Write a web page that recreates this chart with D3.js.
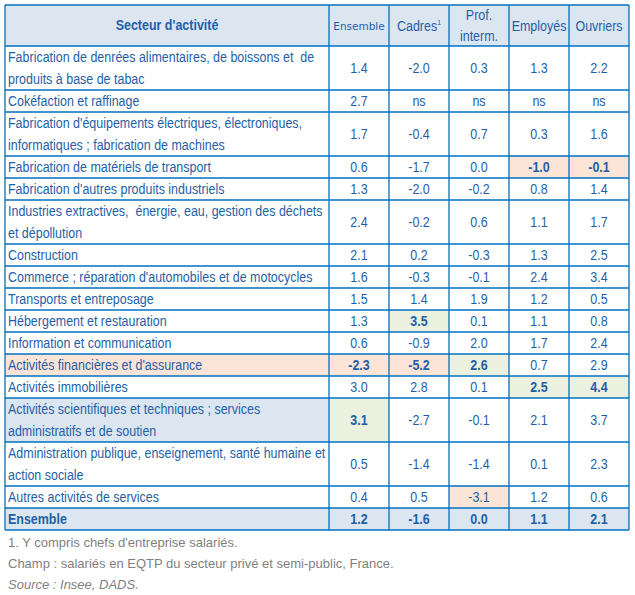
<!DOCTYPE html>
<html>
<head>
<meta charset="utf-8">
<script src="https://cdn.jsdelivr.net/npm/d3@7"></script>
<style>
  body { margin: 0; background: #fff; }
  svg text { font-family: "Liberation Sans", Arial, sans-serif; }
</style>
</head>
<body>
<div id="chart"></div>
<script>
// libellés des secteurs (une entrée par ligne de texte)
const secteurs = [
  ["Fabrication de denrées alimentaires, de boissons et  de", "produits à base de tabac"],
  ["Cokéfaction et raffinage"],
  ["Fabrication d'équipements électriques, électroniques,", "informatiques ; fabrication de machines"],
  ["Fabrication de matériels de transport"],
  ["Fabrication d'autres produits industriels"],
  ["Industries extractives,  énergie, eau, gestion des déchets", "et dépollution"],
  ["Construction"],
  ["Commerce ; réparation d'automobiles et de motocycles"],
  ["Transports et entreposage"],
  ["Hébergement et restauration"],
  ["Information et communication"],
  ["Activités financières et d'assurance"],
  ["Activités immobilières"],
  ["Activités scientifiques et techniques ; services", "administratifs et de soutien"],
  ["Administration publique, enseignement, santé humaine et", "action sociale"],
  ["Autres activités de services"],
  ["Ensemble"]
];

const colonnes = ["Ensemble", "Cadres", "Prof. interm.", "Employés", "Ouvriers"];

const ensemble  = ["1.4", "2.7", "1.7", "0.6", "1.3", "2.4", "2.1", "1.6", "1.5", "1.3", "0.6", "-2.3", "3.0", "3.1", "0.5", "0.4", "1.2"];
const cadres    = ["-2.0", "ns", "-0.4", "-1.7", "-2.0", "-0.2", "0.2", "-0.3", "1.4", "3.5", "-0.9", "-5.2", "2.8", "-2.7", "-1.4", "0.5", "-1.6"];
const profInter = ["0.3", "ns", "0.7", "0.0", "-0.2", "0.6", "-0.3", "-0.1", "1.9", "0.1", "2.0", "2.6", "0.1", "-0.1", "-1.4", "-3.1", "0.0"];
const employes  = ["1.3", "ns", "0.3", "-1.0", "0.8", "1.1", "1.3", "2.4", "1.2", "1.1", "1.7", "0.7", "2.5", "2.1", "0.1", "1.2", "1.1"];
const ouvriers  = ["2.2", "ns", "1.6", "-0.1", "1.4", "1.7", "2.5", "3.4", "0.5", "0.8", "2.4", "2.9", "4.4", "3.7", "2.3", "0.6", "2.1"];

// cellules mises en évidence : [ligne, colonne (0 = libellé), gras]
const faibles = [[3, 4, true], [3, 5, true], [11, 0, false], [11, 1, true], [11, 2, true], [15, 3, false]];
const fortes  = [[9, 2, true], [11, 3, true], [12, 4, true], [12, 5, true], [13, 1, true]];

const notes = [
  "1. Y compris chefs d'entreprise salariés.",
  "Champ : salariés en EQTP du secteur privé et semi-public, France.",
  "Source : Insee, DADS."
];

const W = 635, H = 595;
const blue = "#0070c0", txt = "#1f5fa8";
const bgHead = "#dce6f1", bgOrange = "#fce4d6", bgGreen = "#ebf1de";
const fs = 14.5, sx = 0.86;   // police "étroite" simulée

const svg = d3.select("#chart").append("svg").attr("width", W).attr("height", H);

const valeurs = [ensemble, cadres, profInter, employes, ouvriers];

// colonnes numériques
const x = d3.scaleBand().domain(d3.range(5)).range([329, 629]);
const xLeft = 5;

// lignes : hauteur proportionnelle au nombre de lignes de texte
const nLines = secteurs.map(s => s.length);
const cum = [0];
nLines.forEach(n => cum.push(cum[cum.length - 1] + n));
const y = d3.scaleLinear().domain([0, cum[cum.length - 1]]).range([46, 530]);
const headTop = 5, headBot = 46;

const lastRow = secteurs.length - 1;
function fond(r, c) {
  if (r === lastRow) return bgHead;
  if (r === 13 && c === 0) return bgHead;
  if (faibles.some(d => d[0] === r && d[1] === c)) return bgOrange;
  if (fortes.some(d => d[0] === r && d[1] === c)) return bgGreen;
  return null;
}
function gras(r, c) {
  if (r === lastRow) return true;
  return faibles.concat(fortes).some(d => d[0] === r && d[1] === c && d[2]);
}

// texte condensé
function narrow(px, py, s, opts = {}) {
  const t = svg.append("text")
    .attr("transform", `translate(${px},${py}) scale(${opts.sx || sx},1)`)
    .attr("font-size", opts.size || fs)
    .attr("font-weight", opts.bold ? "bold" : null)
    .attr("text-anchor", opts.anchor || "start")
    .attr("fill", txt)
    .style("white-space", "pre");
  t.text(s);
  return t;
}

// en-tête
svg.append("rect").attr("x", xLeft).attr("y", headTop).attr("width", 629 - xLeft).attr("height", headBot - headTop).attr("fill", bgHead);

// fonds des cellules
const cells = [];
secteurs.forEach((s, r) => {
  for (let c = 0; c <= 5; c++) {
    const f = fond(r, c);
    if (f) cells.push({ r, c, f });
  }
});
svg.selectAll(".bg").data(cells).join("rect")
  .attr("x", d => d.c === 0 ? xLeft : x(d.c - 1))
  .attr("y", d => y(cum[d.r]))
  .attr("width", d => d.c === 0 ? 329 - xLeft : x.bandwidth())
  .attr("height", d => y(cum[d.r + 1]) - y(cum[d.r]))
  .attr("fill", d => d.f);

// libellés des secteurs
const lh = y(1) - y(0);
secteurs.forEach((s, r) => {
  s.forEach((line, i) => {
    narrow(8, y(cum[r] + i) + lh / 2 + 5, line, { bold: r === lastRow });
  });
});

// valeurs
valeurs.forEach((col, c) => {
  col.forEach((v, r) => {
    narrow(x(c) + x.bandwidth() / 2, (y(cum[r]) + y(cum[r + 1])) / 2 + 5, v,
      { anchor: "middle", bold: gras(r, c + 1) });
  });
});

// textes de l'en-tête
narrow(167, 30, "Secteur d'activité", { anchor: "middle", bold: true });
svg.append("text").attr("x", x(0) + x.bandwidth() / 2).attr("y", 30).attr("text-anchor", "middle")
  .style("font-family", "Verdana, 'DejaVu Sans', sans-serif").attr("font-size", 10.5).attr("fill", txt)
  .text(colonnes[0]);
const cad = narrow(x(1) + x.bandwidth() / 2, 31, "", { anchor: "middle" });
cad.append("tspan").text(colonnes[1]);
cad.append("tspan").attr("dy", -6).attr("font-size", 8).text("1");
narrow(x(2) + x.bandwidth() / 2, 20, "Prof.", { anchor: "middle" });
narrow(x(2) + x.bandwidth() / 2, 41, "interm.", { anchor: "middle" });
[3, 4].forEach(c => narrow(x(c) + x.bandwidth() / 2, 31, colonnes[c], { anchor: "middle" }));

// quadrillage
const hLines = [headTop, headBot].concat(cum.slice(1).map(v => y(v)));
svg.selectAll(".hl").data(hLines).join("line")
  .attr("x1", xLeft).attr("x2", 629)
  .attr("y1", d => d).attr("y2", d => d)
  .attr("stroke", blue).attr("stroke-width", 1.3);
const vLines = [xLeft].concat(d3.range(5).map(c => x(c)), [629]);
svg.selectAll(".vl").data(vLines).join("line")
  .attr("x1", d => d).attr("x2", d => d)
  .attr("y1", headTop).attr("y2", y(cum[cum.length - 1]))
  .attr("stroke", blue).attr("stroke-width", 1.3);

// notes
svg.selectAll(".note").data(notes).join("text")
  .attr("x", 8)
  .attr("y", (d, i) => 547 + i * 21)
  .attr("font-size", 13)
  .attr("font-style", (d, i) => i === 2 ? "italic" : null)
  .attr("fill", "#7f7f7f")
  .text(d => d);
</script>
</body>
</html>
